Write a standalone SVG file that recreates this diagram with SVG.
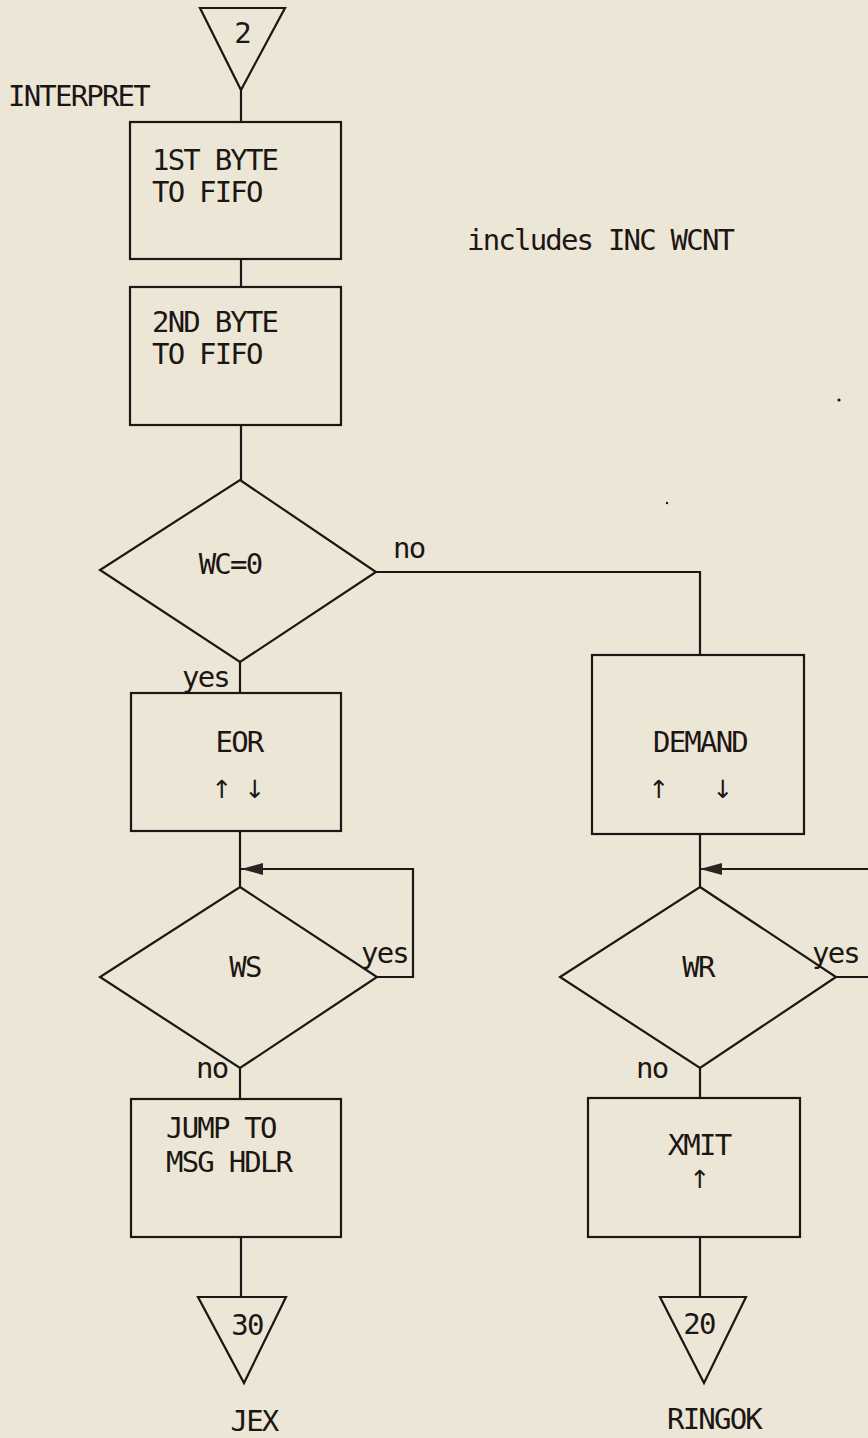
<svg xmlns="http://www.w3.org/2000/svg" width="868" height="1438" viewBox="0 0 868 1438">
<style>
.s{fill:none;stroke:#1c1614;stroke-width:2.2}
.t{font-family:"DejaVu Sans Mono","Liberation Mono",monospace;font-size:29px;fill:#1c1614;letter-spacing:-1.8px}
.m{text-anchor:middle}
.a{font-family:"DejaVu Sans","Liberation Sans",sans-serif;font-size:25px;fill:#1c1614;text-anchor:middle}
</style>
<defs>
<marker id="ah" viewBox="0 0 22 12" refX="22" refY="6" markerWidth="22" markerHeight="12" markerUnits="userSpaceOnUse" orient="auto">
<path d="M0,0 L22,6 L0,12 Z" fill="#2a2422"/>
</marker>
</defs>
<rect width="868" height="1438" fill="#ECE6D6"/>
<g id="connectors">
<path class="s" d="M241,90 V122"/>
<path class="s" d="M241,259 V287"/>
<path class="s" d="M241,425 V480"/>
<path class="s" d="M376,572 H700 V655"/>
<path class="s" d="M240,662 V693"/>
<path class="s" d="M240,831 V887"/>
<path class="s" d="M377,977 H413 V869 H241" marker-end="url(#ah)"/>
<path class="s" d="M240,1068 V1099"/>
<path class="s" d="M241,1237 V1297"/>
<path class="s" d="M700,834 V887"/>
<path class="s" d="M836,977 H872 V869 H700" marker-end="url(#ah)"/>
<path class="s" d="M700,1068 V1098"/>
<path class="s" d="M700,1237 V1297"/>
<text class="t" x="393" y="558">no</text>
<text class="t" x="182" y="687">yes</text>
<text class="t" x="361" y="963">yes</text>
<text class="t" x="196" y="1078">no</text>
<text class="t" x="812" y="963">yes</text>
<text class="t" x="636" y="1078">no</text>
</g>
<g id="start">
<polygon class="s" points="200,8 285,8 241,90"/>
<text class="t m" x="242" y="43">2</text>
</g>
<text class="t" x="8" y="106">INTERPRET</text>
<text class="t" x="467" y="250">includes INC WCNT</text>
<g id="byte1">
<rect class="s" x="130" y="122" width="211" height="137"/>
<text class="t" x="152" y="170">1ST BYTE</text>
<text class="t" x="152" y="202">TO FIFO</text>
</g>
<g id="byte2">
<rect class="s" x="130" y="287" width="211" height="138"/>
<text class="t" x="152" y="332">2ND BYTE</text>
<text class="t" x="152" y="364">TO FIFO</text>
</g>
<g id="wc0">
<polygon class="s" points="240,480 376,572 240,662 100,570"/>
<text class="t m" x="230" y="574">WC=0</text>
</g>
<g id="eor">
<rect class="s" x="131" y="693" width="210" height="138"/>
<text class="t m" x="239" y="752">EOR</text>
<text class="a" x="222" y="798">↑</text>
<text class="a" x="255" y="798">↓</text>
</g>
<g id="demand">
<rect class="s" x="592" y="655" width="212" height="179"/>
<text class="t m" x="700" y="752">DEMAND</text>
<text class="a" x="659" y="798">↑</text>
<text class="a" x="723" y="798">↓</text>
</g>
<g id="ws">
<polygon class="s" points="240,887 377,977 240,1068 100,977"/>
<text class="t m" x="245" y="977">WS</text>
</g>
<g id="wr">
<polygon class="s" points="700,887 836,977 700,1068 560,977"/>
<text class="t m" x="698" y="977">WR</text>
</g>
<g id="jump">
<rect class="s" x="131" y="1099" width="210" height="138"/>
<text class="t" x="166" y="1138">JUMP TO</text>
<text class="t" x="166" y="1172">MSG HDLR</text>
</g>
<g id="xmit">
<rect class="s" x="588" y="1098" width="212" height="139"/>
<text class="t m" x="699" y="1155">XMIT</text>
<text class="a" x="700" y="1188">↑</text>
</g>
<g id="jex">
<polygon class="s" points="198,1297 286,1297 244,1383"/>
<text class="t m" x="247" y="1335">30</text>
<text class="t m" x="254" y="1431">JEX</text>
</g>
<g id="ringok">
<polygon class="s" points="660,1297 746,1297 704,1383"/>
<text class="t m" x="699" y="1334">20</text>
<text class="t m" x="714" y="1429">RINGOK</text>
</g>
<circle cx="839" cy="400" r="1.6" fill="#1c1614"/>
<circle cx="667" cy="503" r="1.2" fill="#1c1614"/>
</svg>
